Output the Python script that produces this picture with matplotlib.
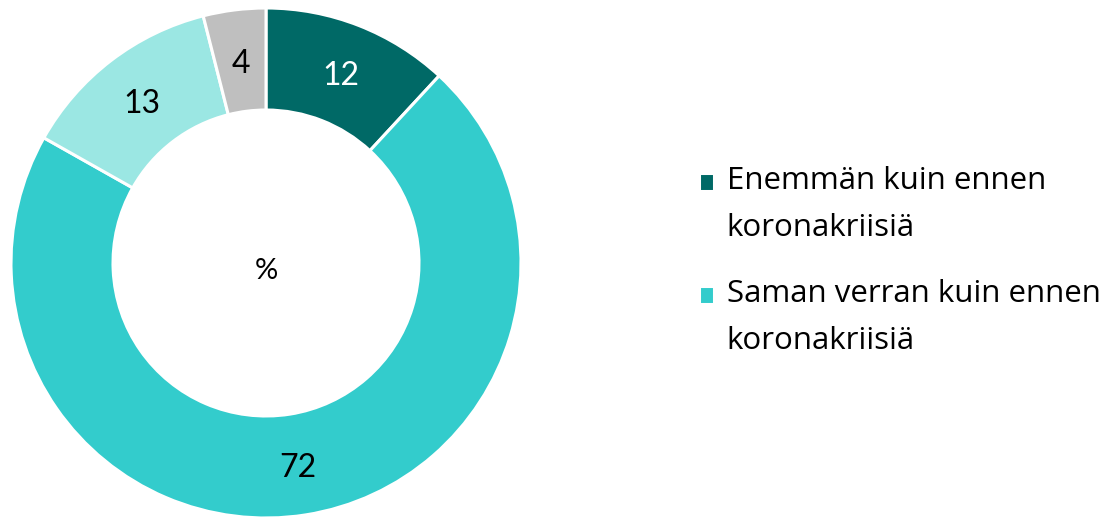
import matplotlib.pyplot as plt

plt.rcParams['font.family'] = ['Lato', 'DejaVu Sans']

# data
categories = ['Enemmän kuin ennen\nkoronakriisiä',
              'Saman verran kuin ennen\nkoronakriisiä',
              'Vähemmän kuin ennen\nkoronakriisiä',
              'En osaa sanoa']
values = [12, 72, 13, 4]
colors = ['#006966', '#33CCCC', '#9BE7E3', '#BFBFBF']
label_colors = ['white', 'black', 'black', 'black']

fig = plt.figure(figsize=(11.15, 5.19), dpi=100)
# axes sized so the ring fills the left part of the picture
ax = fig.add_axes([11 / 1115, (519 - 518) / 519, 510 / 1115, 510 / 519])

wedges, texts = ax.pie(
    values,
    labels=[str(v) for v in values],
    colors=colors,
    startangle=90,
    counterclock=False,
    labeldistance=0.8,
    radius=1.0,
    wedgeprops=dict(width=0.4, edgecolor='white', linewidth=2.2),
    textprops=dict(fontsize=23),
)
for t, c in zip(texts, label_colors):
    t.set_color(c)
    t.set_ha('center')
    t.set_va('center_baseline')

ax.text(0, -0.03, '%', ha='center', va='center', fontsize=21)
ax.set_xlim(-1, 1)
ax.set_ylim(-1, 1)
ax.set_aspect('auto')

# only the first two entries are visible in the original
leg = fig.legend(wedges[:2], categories[:2], loc='upper left',
                 bbox_to_anchor=(686 / 1115, 1 - 154 / 519),
                 frameon=False, prop={'family': 'Open Sans', 'size': 22.5},
                 handlelength=0.5, handleheight=0.5,
                 handletextpad=0.4, labelspacing=1.15, borderaxespad=0)
for t in leg.get_texts():
    t.set_linespacing(1.72)
# markers sit next to the first line of each label
for h in leg.legend_handles:
    h.set_y(h.get_y() + 16.5)

plt.savefig('out.png', dpi=100)
